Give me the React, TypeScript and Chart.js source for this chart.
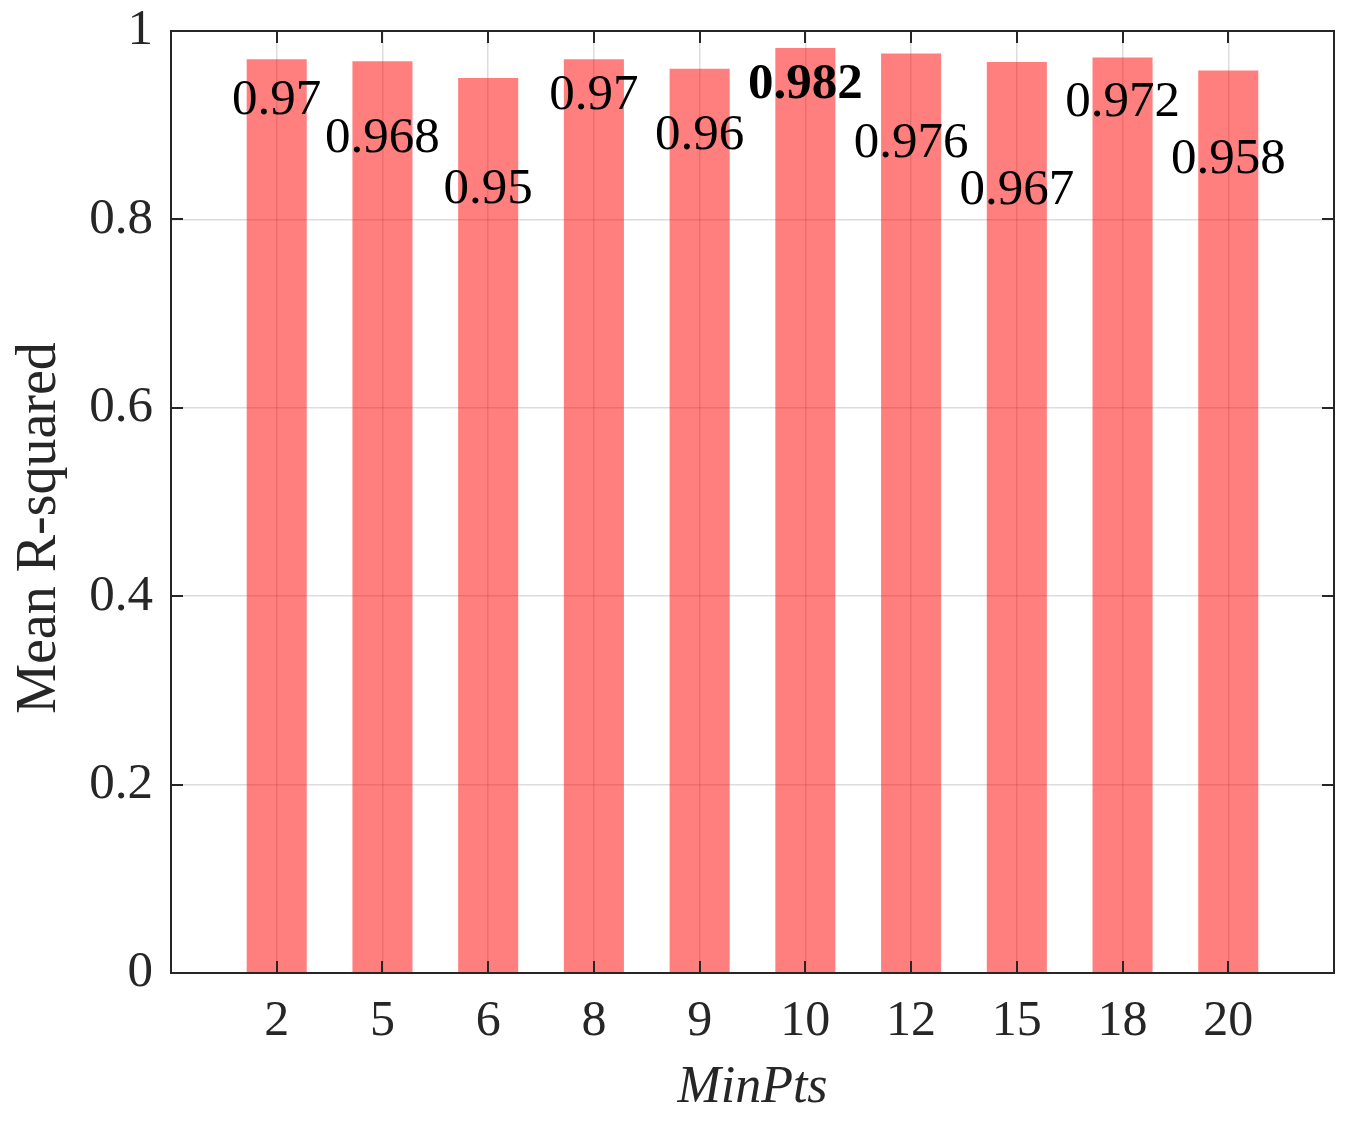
import { useEffect, useRef } from "react";
import { Chart, registerables } from "chart.js";

Chart.register(...registerables);

// MinPts values on the x axis and the mean R-squared for each
const minPts = ["2", "5", "6", "8", "9", "10", "12", "15", "18", "20"];
const rSquared = [0.97, 0.968, 0.95, 0.97, 0.96, 0.982, 0.976, 0.967, 0.972, 0.958];
const yTicks = [0, 0.2, 0.4, 0.6, 0.8, 1];

// how far (px) each value label's baseline sits below the top of its bar
const labelDrop = [55, 91, 125, 50, 80, 50, 103, 142, 59, 102];

const SERIF = "'Liberation Serif', 'Times New Roman', serif";
const AXIS_COLOR = "#262626";
const GRID_COLOR = "rgba(38, 38, 38, 0.16)";

const best = rSquared.indexOf(Math.max(...rSquared));

const matlabFrame = {
  id: "matlabFrame",
  afterDatasetsDraw(chart: Chart) {
    const { ctx, chartArea, scales } = chart;
    const { left, top, right, bottom } = chartArea;
    const x = scales.x;
    const y = scales.y;
    ctx.save();

    // value labels under the bar tops
    const meta = chart.getDatasetMeta(0);
    ctx.fillStyle = "#000";
    ctx.textAlign = "center";
    ctx.textBaseline = "alphabetic";
    meta.data.forEach((bar: any, i: number) => {
      ctx.font = `${i === best ? "bold " : ""}51px ${SERIF}`;
      ctx.fillText(String(rSquared[i]), bar.x, bar.y + labelDrop[i]);
    });

    // inward tick marks on all four sides
    ctx.strokeStyle = AXIS_COLOR;
    ctx.lineWidth = 2;
    ctx.beginPath();
    x.ticks.forEach((t) => {
      const px = Math.round(x.getPixelForValue(t.value));
      ctx.moveTo(px, bottom);
      ctx.lineTo(px, bottom - 12);
      ctx.moveTo(px, top);
      ctx.lineTo(px, top + 12);
    });
    y.ticks.forEach((t) => {
      const py = Math.round(y.getPixelForValue(t.value));
      ctx.moveTo(left, py);
      ctx.lineTo(left + 12, py);
      ctx.moveTo(right, py);
      ctx.lineTo(right - 12, py);
    });
    ctx.stroke();
    ctx.strokeRect(left, top, right - left, bottom - top);

    // axis titles
    ctx.fillStyle = AXIS_COLOR;
    ctx.font = `italic 52px ${SERIF}`;
    ctx.textAlign = "center";
    ctx.fillText("MinPts", (left + right) / 2, 1102);

    ctx.translate(55, 528);
    ctx.rotate(-Math.PI / 2);
    ctx.font = `56px ${SERIF}`;
    ctx.fillText("Mean R-squared", 0, 0);

    ctx.restore();
  },
};

const App = () => {
  const canvasRef = useRef<HTMLCanvasElement>(null);
  const chartRef = useRef<Chart | null>(null);

  useEffect(() => {
    if (!canvasRef.current) return;
    if (chartRef.current) chartRef.current.destroy();

    chartRef.current = new Chart(canvasRef.current, {
      type: "bar",
      data: {
        datasets: [
          {
            data: minPts.map((_, i) => ({ x: i + 1, y: rSquared[i] })),
            backgroundColor: "rgba(255, 0, 0, 0.5)",
            borderWidth: 0,
            barPercentage: 0.568,
            categoryPercentage: 1,
          },
        ],
      },
      options: {
        animation: false,
        responsive: true,
        maintainAspectRatio: false,
        layout: { padding: { top: 31, right: 19, left: 0, bottom: 0 } },
        plugins: {
          legend: { display: false },
          tooltip: { enabled: false },
        },
        scales: {
          x: {
            type: "linear",
            min: 0,
            max: minPts.length + 1,
            offset: false,
            afterBuildTicks: (scale: any) => {
              scale.ticks = minPts.map((_, i) => ({ value: i + 1 }));
            },
            afterFit: (scale: any) => {
              scale.height = 148;
              scale.paddingLeft = 0;
              scale.paddingRight = 0;
            },
            grid: { color: GRID_COLOR, lineWidth: 1.5, drawTicks: false, offset: false },
            border: { display: false },
            ticks: {
              autoSkip: false,
              maxRotation: 0,
              padding: 19,
              color: AXIS_COLOR,
              font: { family: SERIF, size: 50 },
              callback: (_v: any, i: number) => minPts[i],
            },
          },
          y: {
            min: 0,
            max: 1,
            afterBuildTicks: (scale: any) => {
              scale.ticks = yTicks.map((v) => ({ value: v }));
            },
            afterFit: (scale: any) => {
              scale.width = 171;
              scale.paddingTop = 0;
              scale.paddingBottom = 0;
            },
            grid: { color: GRID_COLOR, lineWidth: 1.5, drawTicks: false },
            border: { display: false },
            ticks: {
              padding: 18,
              color: AXIS_COLOR,
              font: { family: SERIF, size: 51 },
              callback: (v: any) => String(v),
            },
          },
        },
      },
      plugins: [matlabFrame],
    });

    return () => {
      if (chartRef.current) {
        chartRef.current.destroy();
        chartRef.current = null;
      }
    };
  }, []);

  return (
    <div style={{ position: "absolute", left: 0, top: 0, width: "1353px", height: "1121px", background: "#fff" }}>
      <canvas ref={canvasRef} />
    </div>
  );
};

export default App;
